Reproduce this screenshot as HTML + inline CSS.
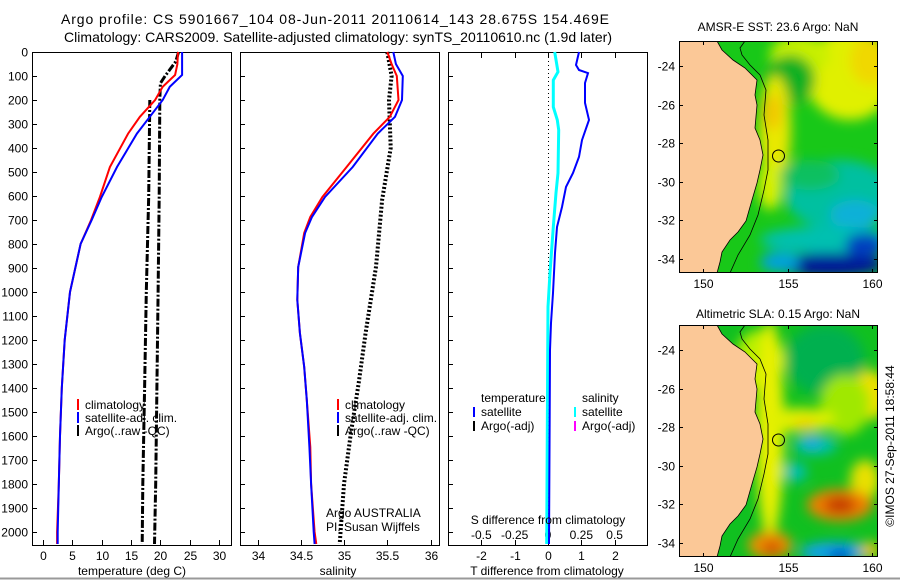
<!DOCTYPE html>
<html><head><meta charset="utf-8"><style>
html,body{margin:0;padding:0;background:#fff;}
svg{display:block;font-family:"Liberation Sans",sans-serif;}
</style></head><body>
<svg id="c" width="900" height="580" viewBox="0 0 900 580" xmlns="http://www.w3.org/2000/svg">
<defs>
<clipPath id="m1"><rect x="679" y="41" width="199" height="232"/></clipPath>
<clipPath id="m2"><rect x="679" y="325" width="199" height="232"/></clipPath>
<filter id="bl" x="-50%" y="-50%" width="200%" height="200%"><feGaussianBlur stdDeviation="6"/></filter>
</defs>
<rect width="900" height="580" fill="#fff"/>
<line x1="0" y1="578.5" x2="900" y2="578.5" stroke="#999" stroke-width="2"/>
<text x="335" y="24" font-size="14" text-anchor="middle" textLength="548">Argo profile: CS 5901667_104 08-Jun-2011 20110614_143 28.675S 154.469E</text>
<text x="338" y="42" font-size="14" text-anchor="middle" textLength="548">Climatology: CARS2009. Satellite-adjusted climatology: synTS_20110610.nc (1.9d later)</text>

<!-- panel frames -->
<rect x="32.5" y="52.5" width="199" height="493" fill="none" stroke="#000"/>
<rect x="240.5" y="52.5" width="199" height="493" fill="none" stroke="#000"/>
<rect x="448.5" y="52.5" width="199" height="493" fill="none" stroke="#000"/>
<g id="ticks"></g>
<g id="series"></g>

<text x="132" y="575" font-size="12" text-anchor="middle">temperature (deg C)</text>
<text x="338" y="575" font-size="12" text-anchor="middle">salinity</text>
<text x="547" y="575" font-size="12" text-anchor="middle">T difference from climatology</text>
<text x="548" y="524" font-size="12" text-anchor="middle">S difference from climatology</text>

<!-- legends -->
<g font-size="12">
<rect x="77" y="399" width="2" height="11" fill="#f00"/><text x="85" y="409">climatology</text>
<rect x="77" y="412" width="2" height="11" fill="#00f"/><text x="85" y="422">satellite-adj. clim.</text>
<rect x="77" y="425" width="2" height="11" fill="#000"/><text x="85" y="435">Argo(..raw -QC)</text>
</g>
<g font-size="12">
<rect x="337" y="399" width="2" height="11" fill="#f00"/><text x="345" y="409">climatology</text>
<rect x="337" y="412" width="2" height="11" fill="#00f"/><text x="345" y="422">satellite-adj. clim.</text>
<rect x="337" y="425" width="2" height="11" fill="#000"/><text x="345" y="435">Argo(..raw -QC)</text>
</g>
<g font-size="12">
<text x="481" y="402">temperature</text>
<rect x="473" y="407" width="2" height="10" fill="#00f"/><text x="481" y="416">satellite</text>
<rect x="473" y="421" width="2" height="10" fill="#000"/><text x="481" y="430">Argo(-adj)</text>
<text x="582" y="402">salinity</text>
<rect x="574" y="407" width="2" height="10" fill="#0ff"/><text x="582" y="416">satellite</text>
<rect x="574" y="421" width="2" height="10" fill="#f0f"/><text x="582" y="430">Argo(-adj)</text>
</g>
<text x="326" y="517" font-size="12">Argo AUSTRALIA</text>
<text x="326" y="531" font-size="12">PI: Susan Wijffels</text>

<!-- maps -->
<text x="778" y="31" font-size="12" text-anchor="middle">AMSR-E SST: 23.6 Argo: NaN</text>
<g clip-path="url(#m1)">
<rect x="679" y="41" width="199" height="232" fill="#18c818"/>
<g filter="url(#bl)">
<ellipse cx="850" cy="75" rx="45" ry="45" fill="#e0f000"/>
<ellipse cx="870" cy="60" rx="20" ry="25" fill="#f0d800"/>
<ellipse cx="800" cy="55" rx="30" ry="20" fill="#c8f000"/>
<ellipse cx="790" cy="80" rx="25" ry="25" fill="#10b020"/>
<ellipse cx="775" cy="130" rx="16" ry="55" fill="#e8e800"/>
<ellipse cx="772" cy="112" rx="10" ry="18" fill="#f0c800"/>
<ellipse cx="770" cy="185" rx="12" ry="25" fill="#d8f000"/>
<ellipse cx="840" cy="195" rx="55" ry="35" fill="#00c0a0"/>
<ellipse cx="810" cy="175" rx="30" ry="15" fill="#10c060"/>
<ellipse cx="855" cy="215" rx="25" ry="15" fill="#10b0d8"/>
<ellipse cx="830" cy="240" rx="70" ry="14" fill="#00c0b0"/>
<ellipse cx="830" cy="265" rx="55" ry="12" fill="#001898"/>
<ellipse cx="865" cy="245" rx="20" ry="12" fill="#0040c0"/>
<ellipse cx="780" cy="262" rx="20" ry="10" fill="#00a0e0"/>
</g>
<polygon id="land1" fill="#fbc897" stroke="#000" stroke-width="0.8" points="717,41 722,50 733,60 745,68 752,75 757,80 755,95 757,105 755,128 760,140 763,155 760,170 757,183 752,200 746,221 738,232 730,240 722,252 720,262 717,273 679,273 679,41"/>
<polyline fill="none" stroke="#000" stroke-width="0.8" points="745,41 740,48 742,55 750,65 760,75 766,90 764,115 768,140 768,170 764,190 758,215 750,235 738,255 730,273"/>
<circle cx="778.5" cy="156" r="6" fill="none" stroke="#000"/>
</g>
<rect x="679.5" y="41.5" width="198" height="231" fill="none" stroke="#000"/>

<text x="778" y="318" font-size="12" text-anchor="middle">Altimetric SLA: 0.15 Argo: NaN</text>
<g clip-path="url(#m2)">
<rect x="679" y="325" width="199" height="232" fill="#10c020"/>
<g filter="url(#bl)">
<ellipse cx="825" cy="360" rx="40" ry="35" fill="#00b050"/>
<ellipse cx="760" cy="360" rx="25" ry="30" fill="#b8f000"/>
<ellipse cx="770" cy="430" rx="14" ry="110" fill="#e8f000"/>
<ellipse cx="870" cy="395" rx="18" ry="25" fill="#f0e000"/>
<ellipse cx="845" cy="405" rx="25" ry="30" fill="#a0e800"/>
<ellipse cx="800" cy="420" rx="35" ry="12" fill="#e0f000"/>
<ellipse cx="805" cy="425" rx="12" ry="6" fill="#f0d000"/>
<ellipse cx="815" cy="445" rx="22" ry="10" fill="#00c0b0"/>
<ellipse cx="812" cy="442" rx="8" ry="6" fill="#20a0f0"/>
<ellipse cx="795" cy="472" rx="12" ry="10" fill="#00c0b0"/>
<ellipse cx="865" cy="480" rx="15" ry="20" fill="#e8e000"/>
<ellipse cx="840" cy="505" rx="33" ry="16" fill="#f08000"/>
<ellipse cx="840" cy="505" rx="16" ry="8" fill="#c03000"/>
<ellipse cx="770" cy="545" rx="22" ry="14" fill="#f09000"/>
<ellipse cx="772" cy="548" rx="10" ry="7" fill="#d05000"/>
<ellipse cx="835" cy="552" rx="35" ry="10" fill="#10a0f0"/>
<ellipse cx="840" cy="556" rx="12" ry="6" fill="#0040d0"/>
<ellipse cx="870" cy="550" rx="10" ry="8" fill="#f0c000"/>
</g>
<polygon fill="#fbc897" stroke="#000" stroke-width="0.8" transform="translate(0,284)" points="717,41 722,50 733,60 745,68 752,75 757,80 755,95 757,105 755,128 760,140 763,155 760,170 757,183 752,200 746,221 738,232 730,240 722,252 720,262 717,273 679,273 679,41"/>
<polyline fill="none" stroke="#000" stroke-width="0.8" transform="translate(0,284)" points="745,41 740,48 742,55 750,65 760,75 766,90 764,115 768,140 768,170 764,190 758,215 750,235 738,255 730,273"/>
<circle cx="778.5" cy="440" r="6" fill="none" stroke="#000"/>
</g>
<rect x="679.5" y="325.5" width="198" height="231" fill="none" stroke="#000"/>
<g id="mapticks" font-size="12"></g>
<text transform="translate(894,446) rotate(-90)" font-size="12" text-anchor="middle">©IMOS 27-Sep-2011 18:58:44</text>

<script>
// ---- data ----
var depthTicks = [0,100,200,300,400,500,600,700,800,900,1000,1100,1200,1300,1400,1500,1600,1700,1800,1900,2000];
var tTicks = [0,5,10,15,20,25,30];
var sTicks = [34,34.5,35,35.5,36];
var sTickLabels = ["34","34.5","35","35.5","36"];
var dtTicks = [-2,-1,0,1,2];
var dsTicks = [-0.5,-0.25,0,0.25,0.5];
var dsTickLabels = ["-0.5","-0.25","0","0.25","0.5"];

var depthT = [0,50,96,145,200,270,340,479,604,700,800,1000,1200,1400,1600,1800,2000,2050];
var climT = [23.0,22.9,22.5,20.4,19.1,16.5,14.5,11.4,9.7,8.2,6.4,4.6,3.7,3.2,2.9,2.7,2.4,2.4];
var satT = [23.7,23.7,23.7,21.6,20.4,18.2,16.0,12.6,10.0,8.3,6.4,4.6,3.7,3.2,2.9,2.7,2.5,2.5];
var argoDepth1 = [0,40,100,130,200,600,1000,1400,1800,2050];
var argoT1 = [23.1,22.6,20.8,20.0,19.9,19.8,19.6,19.4,19.2,19.0];
var argoDepth2 = [200,600,1000,1400,1800,2050];
var argoT2 = [18.2,18.0,17.6,17.3,17.0,16.9];

var depthS = [0,50,100,200,270,340,479,604,687,754,896,1033,1171,1312,1450,1646,1800,2000,2050];
var climS = [35.50,35.55,35.61,35.63,35.53,35.34,35.03,34.75,34.61,34.54,34.47,34.46,34.49,34.54,34.57,34.61,34.62,34.66,34.68];
var satS = [35.57,35.60,35.68,35.67,35.59,35.39,35.10,34.78,34.63,34.55,34.47,34.46,34.49,34.54,34.57,34.60,34.62,34.65,34.66];
var argoDepthS = [0,100,200,400,617,895,1171,1379,1587,1800,2050];
var argoS = [35.50,35.55,35.52,35.54,35.44,35.37,35.25,35.17,35.08,35.00,34.95];

var diffDepthT = [0,54,75,88,129,212,283,367,437,504,562,646,729,837,1004,1129,1242,1500,2050];
var diffT = [0.93,0.84,0.93,1.2,1.11,1.11,1.23,1.02,0.93,0.75,0.54,0.42,0.27,0.21,0.15,0.09,0.06,0.05,0.03];
var diffDepthS = [0,83,117,229,283,325,504,587,729,921,1062,1271,2050];
var diffS = [0.05,0.075,0.04,0.04,0.07,0.08,0.075,0.06,0.04,0.015,0.0,-0.002,-0.01];

var mapLatTicks = [-24,-26,-28,-30,-32,-34];
var mapLonTicks = [150,155,160];

// ---- scales ----
function yD(d){return 52 + d*0.24;}
function xT(t){return 43 + t*5.87;}
function xS(s){return 257.5 + (s-34)*86.5;}
function xDT(v){return 548 + v*33.3;}
function xDS(v){return 548 + v*133.3;}
function lonX(l){return 703 + (l-150)*16.9;}
function latY(l,off){return 66 + (-24-l)*19.3 + off;}

var NS="http://www.w3.org/2000/svg";
function mk(tag,attrs,parent){var e=document.createElementNS(NS,tag);for(var k in attrs)e.setAttribute(k,attrs[k]);parent.appendChild(e);return e;}
var tk=document.getElementById('ticks'), se=document.getElementById('series'), mt=document.getElementById('mapticks');

depthTicks.forEach(function(d){
  var y=yD(d)+0.5;
  [32,240,448].forEach(function(x0){
    var l=mk('line',{x1:x0,y1:y,x2:x0+5,y2:y,stroke:'#000'},tk);
    
    
  });
  var t=mk('text',{x:28,y:y+4,'font-size':12,'text-anchor':'end'},tk);t.textContent=String(d);
  
  
});
tTicks.forEach(function(v){
  var x=Math.round(xT(v))+0.5;
  mk('line',{x1:x,y1:545,x2:x,y2:540,stroke:'#000'},tk);
  var t=mk('text',{x:x,y:560,'font-size':12,'text-anchor':'middle'},tk);t.textContent=String(v);
  
  
});
sTicks.forEach(function(v,i){
  var x=Math.round(xS(v))+0.5;
  mk('line',{x1:x,y1:545,x2:x,y2:540,stroke:'#000'},tk);
  var t=mk('text',{x:x,y:560,'font-size':12,'text-anchor':'middle'},tk);t.textContent=sTickLabels[i];
  
  
});
dtTicks.forEach(function(v){
  var x=Math.round(xDT(v))+0.5;
  mk('line',{x1:x,y1:545,x2:x,y2:540,stroke:'#000'},tk);
  mk('line',{x1:x,y1:53,x2:x,y2:58,stroke:'#000'},tk);
  var t=mk('text',{x:x,y:560,'font-size':12,'text-anchor':'middle'},tk);t.textContent=String(v);
  
  
});
dsTicks.forEach(function(v,i){
  var x=xDS(v);
  var t=mk('text',{x:x,y:539,'font-size':12,'text-anchor':'middle'},tk);t.textContent=dsTickLabels[i];
  
  
});

function line(xs,ds,fx,attrs,name){
  var pts=xs.map(function(v,i){return fx(v).toFixed(1)+','+yD(ds[i]).toFixed(1);}).join(' ');
  attrs.points=pts;attrs.fill='none';
  var p=mk('polyline',attrs,se);
  
  
}
// zero line for difference panel
var z=mk('line',{x1:548.5,y1:53,x2:548.5,y2:545,stroke:'#000','stroke-dasharray':'1 3'},se);



line(argoT1,argoDepth1,xT,{stroke:'#000','stroke-width':3,'stroke-dasharray':'8 2 2 2'},'argo-temperature-profile-1');
line(argoT2,argoDepth2,xT,{stroke:'#000','stroke-width':3,'stroke-dasharray':'8 2 2 2'},'argo-temperature-profile-2');
line(climT,depthT,xT,{stroke:'#f00','stroke-width':2},'climatology-temperature-line');
line(satT,depthT,xT,{stroke:'#00f','stroke-width':2},'satellite-temperature-line');

line(argoS,argoDepthS,xS,{stroke:'#000','stroke-width':4,'stroke-dasharray':'2 2'},'argo-salinity-profile');
line(climS,depthS,xS,{stroke:'#f00','stroke-width':2},'climatology-salinity-line');
line(satS,depthS,xS,{stroke:'#00f','stroke-width':2},'satellite-salinity-line');

line(diffS,diffDepthS,xDS,{stroke:'#0ff','stroke-width':3},'salinity-difference-line');
line(diffT,diffDepthT,xDT,{stroke:'#00f','stroke-width':2},'temperature-difference-line');

[0,284].forEach(function(off){
  mapLatTicks.forEach(function(l){
    var y=Math.round(latY(l,off))+0.5;
    mk('line',{x1:679,y1:y,x2:683,y2:y,stroke:'#000'},mt);
    mk('line',{x1:878,y1:y,x2:874,y2:y,stroke:'#000'},mt);
    var t=mk('text',{x:675,y:y+4,'text-anchor':'end'},mt);t.textContent=String(l);
    
    
  });
  mapLonTicks.forEach(function(l){
    var x=Math.round(lonX(l))+0.5;
    var yb=off?557:273, yt=off?325:41;
    mk('line',{x1:x,y1:yb,x2:x,y2:yb-4,stroke:'#000'},mt);
    mk('line',{x1:x,y1:yt,x2:x,y2:yt+4,stroke:'#000'},mt);
    var t=mk('text',{x:x,y:yb+15,'text-anchor':'middle'},mt);t.textContent=String(l);
    
    
  });
});
</script>
</svg>
</body></html>
